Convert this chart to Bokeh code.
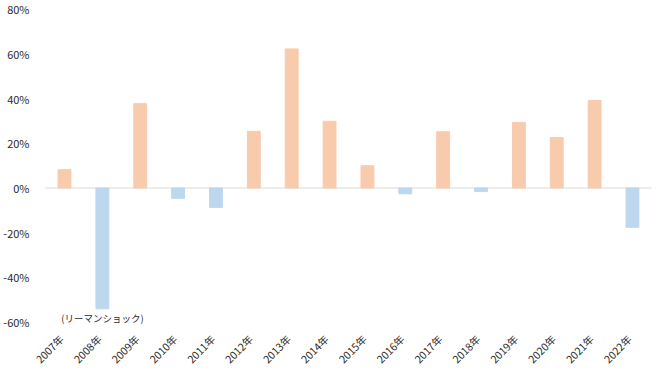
import math
from bokeh.plotting import figure
from bokeh.models import (FactorRange, Range1d, FixedTicker, ColumnDataSource,
                          CustomJSTickFormatter)
from bokeh.transform import dodge
from bokeh.core.properties import value
from bokeh.embed import file_html
from bokeh.resources import INLINE

years = ["2007年", "2008年", "2009年", "2010年", "2011年", "2012年", "2013年", "2014年",
         "2015年", "2016年", "2017年", "2018年", "2019年", "2020年", "2021年", "2022年"]
returns = [8.2, -54.1, 37.8, -4.6, -8.7, 25.4, 62.3, 29.9,
           10.0, -2.6, 25.2, -1.6, 29.4, 22.6, 39.2, -17.6]
y_ticks = [-60, -40, -20, 0, 20, 40, 60, 80]
note_text = "(リーマンショック)"
note_year = "2008年"

POS = "#F8CBAD"
NEG = "#BDD7EE"
FONT = "Noto Sans CJK JP"
TXT = "#2b2b2b"

colors = [POS if v >= 0 else NEG for v in returns]
src = ColumnDataSource(dict(x=years, top=returns, color=colors,
                            base=[y_ticks[0]] * len(years)))

# the frame extends below -60% to hold the rotated category labels
xr = FactorRange(*years, range_padding=0.24, range_padding_units="absolute")
p = figure(width=660, height=371, x_range=xr,
           y_range=Range1d(-82.2, 84.0), output_backend="svg", toolbar_location=None,
           min_border_top=0, min_border_right=0, min_border_left=32, min_border_bottom=0)

# zero line spanning the category area
zsrc = ColumnDataSource(dict(x0=[years[0]], x1=[years[-1]], y=[0]))
p.segment(x0=dodge("x0", -0.5, range=xr), x1=dodge("x1", 0.5, range=xr),
          y0="y", y1="y", source=zsrc, line_color="#D9D9D9", line_width=1)

p.vbar(x="x", top="top", bottom=0, width=0.34, color="color", source=src)

i = years.index(note_year)
p.text(x=[note_year], y=[returns[i]], text=[note_text], text_align="center",
       text_baseline="top", y_offset=2, text_font=value(FONT),
       text_font_size="9.5px", text_color=TXT)

# category labels, rotated 45 degrees below the bars
p.text(x="x", y="base", text="x", source=src, angle=math.pi / 4,
       text_align="right", text_baseline="middle",
       x_offset=-3, y_offset=15, text_font=value(FONT),
       text_font_size="10.5px", text_color=TXT)

p.outline_line_color = None
p.grid.grid_line_color = None

p.xaxis.visible = False

p.yaxis.ticker = FixedTicker(ticks=y_ticks)
p.yaxis.formatter = CustomJSTickFormatter(code="return tick + '%';")
p.yaxis.axis_line_color = None
p.yaxis.major_tick_line_color = None
p.yaxis.minor_tick_line_color = None
p.yaxis.major_label_standoff = 1
p.yaxis.major_label_text_font = FONT
p.yaxis.major_label_text_font_size = "11px"
p.yaxis.major_label_text_color = TXT

open("out.html", "w").write(file_html(p, INLINE))
